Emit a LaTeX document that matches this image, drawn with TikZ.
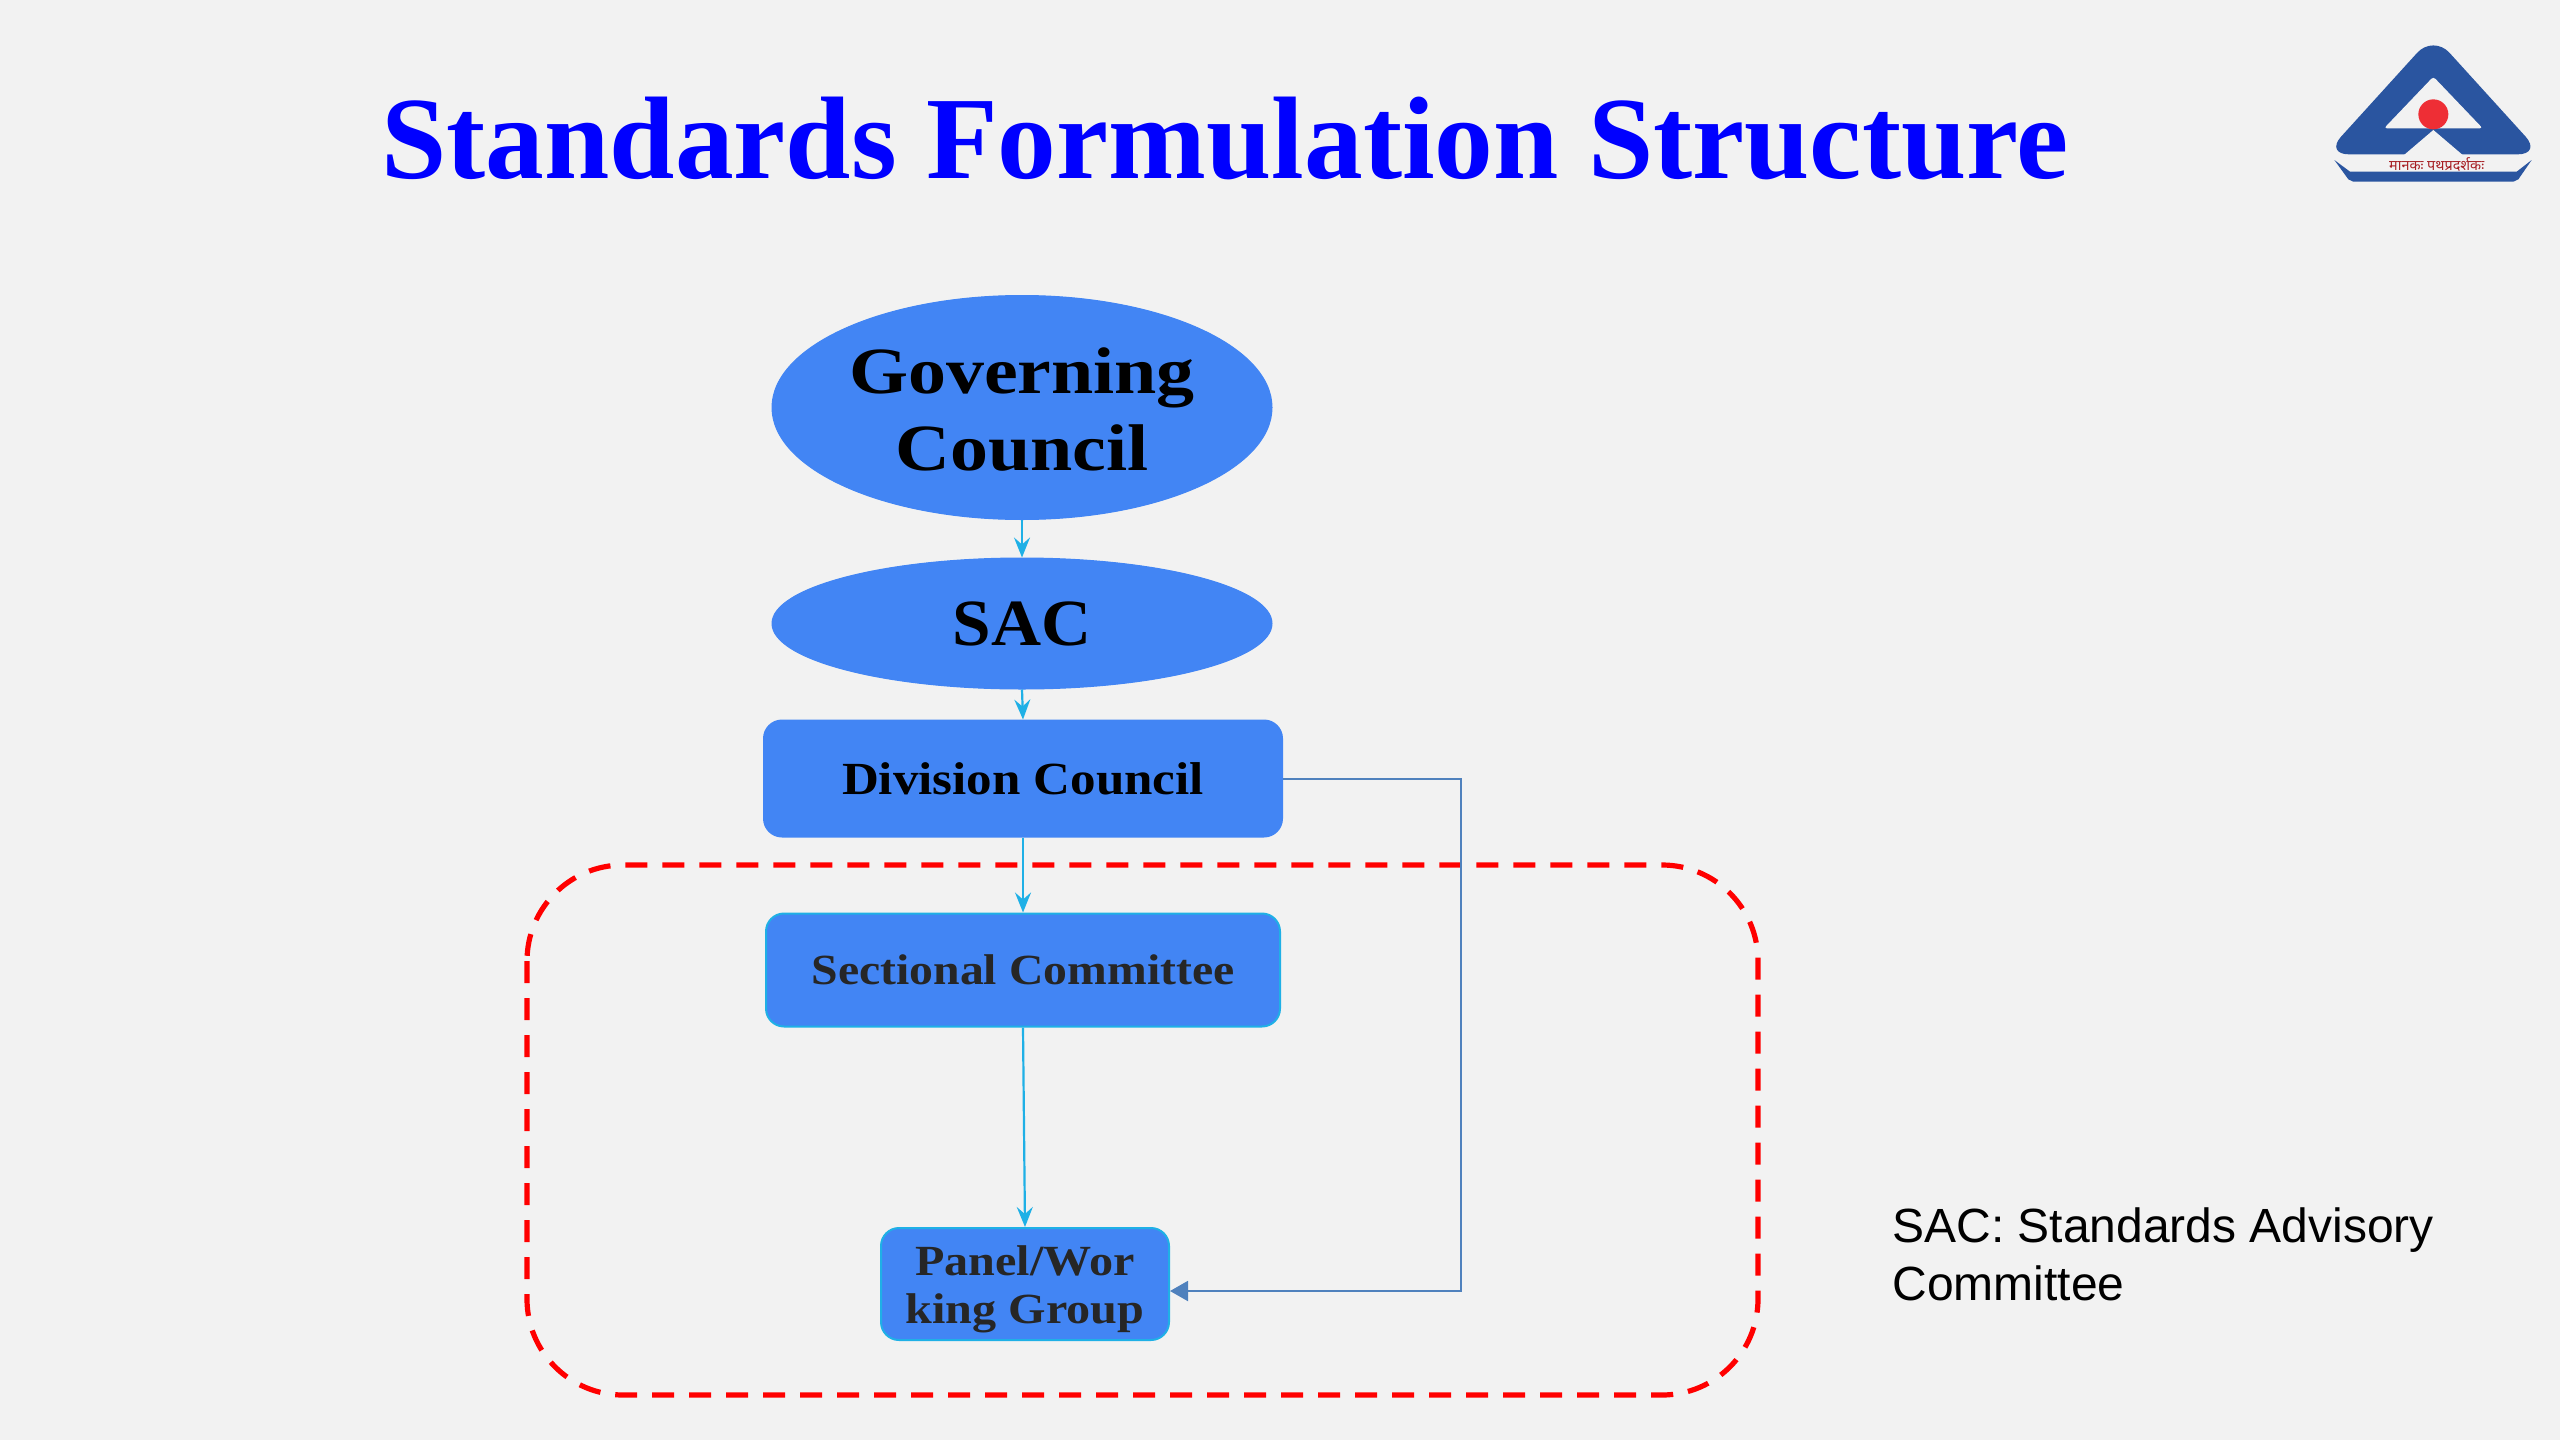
\documentclass[tikz,border=0pt]{standalone}
\usepackage{fontspec}
\setmainfont{Liberation Serif}
\newfontfamily\sansf{Liberation Sans}
\newfontfamily\devaf[Script=Devanagari]{Noto Sans}
\newfontfamily\widea[FakeStretch=1.15]{Liberation Serif}
\newfontfamily\wided[FakeStretch=1.12]{Liberation Serif}
\newfontfamily\wideb[FakeStretch=1.11]{Liberation Serif}
\newfontfamily\widec[FakeStretch=1.05]{Liberation Serif}
\usetikzlibrary{shapes.geometric,arrows.meta}
\definecolor{bgc}{HTML}{F2F2F2}
\definecolor{nodeblue}{HTML}{4285F4}
\definecolor{cyanl}{HTML}{1FB0E6}
\definecolor{steel}{HTML}{4F81BD}
\definecolor{logob}{HTML}{2A55A0}
\definecolor{logor}{HTML}{EE2E35}
\definecolor{titleb}{HTML}{0000FF}
\tikzset{
  x=0.5pt,y=-0.5pt,
  oval/.style={ellipse,fill=nodeblue,draw=nodeblue,line width=0.5pt,inner sep=0pt,align=center,text=black},
  boxn/.style={rectangle,rounded corners=9pt,fill=nodeblue,draw=#1,line width=1pt,inner sep=0pt,align=center},
  link/.style={draw=cyanl,line width=1.1pt,-{Stealth[length=10pt,width=8pt,inset=3.5pt]}},
  backlink/.style={draw=steel,line width=1pt,-{Stealth[length=9pt,width=10pt,inset=0pt]}},
}
\begin{document}
\begin{tikzpicture}
\fill[bgc] (0,0) rectangle (2560,1440);
\useasboundingbox (0,0) rectangle (2560,1440);

\node[inner sep=0pt,text=titleb,font=\bfseries\fontsize{58.7}{66}\selectfont] (title) at (1225,138) {Standards Formulation Structure};

% dashed frame
\draw[red,line width=2.6pt,dash pattern=on 11pt off 7.5pt,rounded corners=48pt] (527,865) rectangle (1758,1395);

\node[oval,minimum width=250pt,minimum height=112pt,font=\widea\bfseries\fontsize{33}{38.5}\selectfont] (gov) at (1022,407.5) {\rule{0pt}{24.5pt}Governing\\Council};
\node[oval,minimum width=250pt,minimum height=65.5pt,font=\widec\bfseries\fontsize{33}{38}\selectfont] (sac) at (1022,623.5) {SAC};
\node[boxn=nodeblue,minimum width=259pt,minimum height=58pt,font=\wideb\bfseries\fontsize{23}{28}\selectfont,text=black] (div) at (1023,778.5) {Division Council};
\node[boxn=cyanl,minimum width=257pt,minimum height=56.5pt,font=\wideb\bfseries\fontsize{21.5}{26}\selectfont,text=black!85] (sec) at (1023,970) {Sectional Committee};
\node[boxn=cyanl,minimum width=144pt,minimum height=56pt,font=\wided\bfseries\fontsize{21.5}{24}\selectfont,text=black!85] (pan) at (1025,1284) {\rule{0pt}{20pt}Panel/Wor\\king Group};

\coordinate (b1) at (1461,778.5);
\coordinate (b2) at (1461,1291);
\coordinate (pe) at (1170,1291);

\draw[link] (gov.south) -- (sac.north);
\draw[link] (sac.south) -- (div.north);
\draw[link] (div.south) -- (sec.north);
\draw[link] (sec.south) -- (pan.north);
\draw[backlink] (div.east) -- (b1) -- (b2) -- (pe);

\node[anchor=base west,inner sep=0pt,align=left,font=\sansf\fontsize{24}{29}\selectfont] (note) at (1892,1300) {SAC: Standards Advisory\\Committee};

% logo
\begin{scope}[shift={(2300,20)},x=0.16667pt,y=-0.16667pt]
\fill[logob,rounded corners=12pt] (400,45) -- (75,403) -- (725,403) -- cycle;
\fill[bgc,rounded corners=1.5pt] (400,170) -- (252,325) -- (548,325) -- cycle;
\fill[bgc] (400,330) -- (312,405) -- (488,405) -- cycle;
\fill[logor] (400,283) circle (45);
\fill[logob] (103,420) -- (150,455) -- (650,455) -- (695,420) -- (655,478) -- (640,485) -- (160,485) -- (145,478) -- cycle;
\node[inner sep=0pt,text=logor!70!black,font=\devaf\fontsize{7.2}{9}\selectfont] (motto) at (410,435) {मानकः पथप्रदर्शकः};
\end{scope}
\end{tikzpicture}
\end{document}
